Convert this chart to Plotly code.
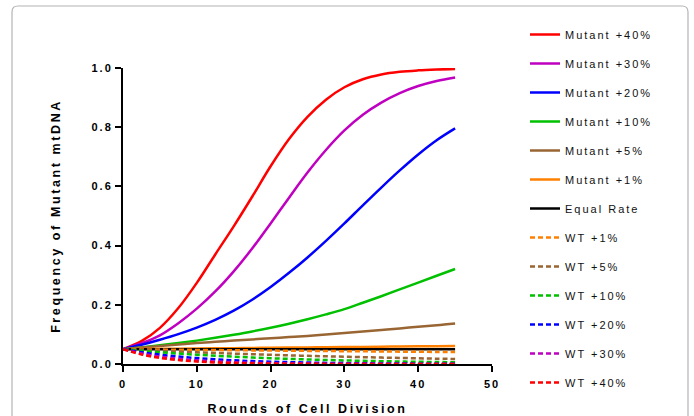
import plotly.graph_objects as go

# ---------------- data ----------------
rounds = [0, 2.5, 5, 7.5, 10, 12.5, 15, 17.5, 20, 22.5, 25, 27.5, 30, 32.5, 35, 37.5, 40, 42.5, 45]

mutant_40 = [0.05, 0.077, 0.122, 0.189, 0.274, 0.37, 0.465, 0.565, 0.668, 0.76, 0.835, 0.893, 0.935, 0.962, 0.978, 0.987, 0.992, 0.995, 0.997]
mutant_30 = [0.05, 0.07, 0.097, 0.138, 0.187, 0.245, 0.313, 0.39, 0.475, 0.562, 0.647, 0.723, 0.789, 0.842, 0.883, 0.915, 0.939, 0.956, 0.968]
mutant_20 = [0.05, 0.065, 0.082, 0.101, 0.123, 0.149, 0.18, 0.217, 0.26, 0.308, 0.36, 0.416, 0.475, 0.536, 0.596, 0.654, 0.708, 0.756, 0.796]
mutant_10 = [0.05, 0.056, 0.063, 0.0706, 0.079, 0.0883, 0.0987, 0.11, 0.1226, 0.1363, 0.1513, 0.1676, 0.1854, 0.207, 0.229, 0.252, 0.275, 0.298, 0.321]
mutant_5 = [0.05, 0.056, 0.061, 0.066, 0.071, 0.075, 0.079, 0.083, 0.087, 0.091, 0.095, 0.1, 0.105, 0.11, 0.115, 0.12, 0.126, 0.131, 0.137]
mutant_1 = [0.05, 0.0506, 0.0512, 0.0518, 0.0524, 0.053, 0.0536, 0.0542, 0.0548, 0.0554, 0.056, 0.0566, 0.0572, 0.0578, 0.0584, 0.059, 0.0596, 0.0602, 0.0608]
equal_rate = [0.05] * 19
wt_1 = [0.05, 0.0494, 0.0488, 0.0482, 0.0476, 0.047, 0.0465, 0.046, 0.0454, 0.0449, 0.0443, 0.0438, 0.0433, 0.0428, 0.0423, 0.0418, 0.0413, 0.0408, 0.0403]
wt_5 = [0.05, 0.0472, 0.0444, 0.0419, 0.0395, 0.0372, 0.035, 0.033, 0.031, 0.0292, 0.0276, 0.026, 0.0245, 0.023, 0.0217, 0.0204, 0.0192, 0.018, 0.017]
wt_10 = [0.05, 0.0445, 0.0396, 0.0352, 0.0313, 0.0278, 0.0247, 0.0219, 0.0194, 0.0173, 0.0153, 0.0135, 0.012, 0.0107, 0.0095, 0.0084, 0.0075, 0.0066, 0.0058]
wt_20 = [0.05, 0.0398, 0.0316, 0.0251, 0.0199, 0.0157, 0.0124, 0.0099, 0.0078, 0.0062, 0.0049, 0.0038, 0.003, 0.0024, 0.0019, 0.0015, 0.0012, 0.0009, 0.0007]
wt_30 = [0.05, 0.0354, 0.025, 0.0176, 0.0123, 0.0087, 0.0061, 0.0042, 0.003, 0.0021, 0.0014, 0.001, 0.0007, 0.0005, 0.0003, 0.0002, 0.00016, 0.0001, 0.00008]
wt_40 = [0.05, 0.0323, 0.0207, 0.0132, 0.0084, 0.0054, 0.0034, 0.0022, 0.0014, 0.0009, 0.0006, 0.0004, 0.0002, 0.00015, 0.0001, 0.00007, 0.00005, 0.00003, 0.00002]

series_names = ["Mutant +40%", "Mutant +30%", "Mutant +20%", "Mutant +10%", "Mutant +5%",
                "Mutant +1%", "Equal Rate", "WT +1%", "WT +5%", "WT +10%", "WT +20%",
                "WT +30%", "WT +40%"]
series_values = [mutant_40, mutant_30, mutant_20, mutant_10, mutant_5, mutant_1, equal_rate,
                 wt_1, wt_5, wt_10, wt_20, wt_30, wt_40]

x_ticks = [0, 10, 20, 30, 40, 50]
y_ticks = [0.0, 0.2, 0.4, 0.6, 0.8, 1.0]

# ---------------- styles ----------------
RED, MAG, BLUE, GREEN, BROWN, ORANGE, BLACK = "#FF0000", "#C000C0", "#0000FF", "#00C000", "#996633", "#FF8000", "#000000"
colors = [RED, MAG, BLUE, GREEN, BROWN, ORANGE, BLACK, ORANGE, BROWN, GREEN, BLUE, MAG, RED]
dashes = ["solid"] * 7 + ["5px,3px"] * 6

FONT = "Arial, Liberation Sans, sans-serif"

fig = go.Figure()
for i, (name, vals) in enumerate(zip(series_names, series_values)):
    fig.add_trace(go.Scatter(
        x=rounds, y=vals, name=name, mode="lines",
        line=dict(color=colors[i], width=2.5, dash=dashes[i], shape="spline"),
        legendgroup="g%d" % i,
    ))

# layout geometry
W, H = 694, 416
L, R, T, B = 123, 202, 68, 52
pw, ph = W - L - R, H - T - B

def px2paper(px, py):
    return (px - L) / pw, (H - B - py) / ph

# rounded grey frame
fx0, fy0 = px2paper(12, 6)
fx1, fy1 = px2paper(688, 440)
rx, ry = 6 / pw, 6 / ph
path = (f"M {fx0},{fy1} L {fx0},{fy0 - ry} Q {fx0},{fy0} {fx0 + rx},{fy0} "
        f"L {fx1 - rx},{fy0} Q {fx1},{fy0} {fx1},{fy0 - ry} L {fx1},{fy1}")

lx, ly = px2paper(525, 20)

fig.update_layout(
    width=W, height=H,
    margin=dict(l=L, r=R, t=T, b=B, autoexpand=False),
    paper_bgcolor="white", plot_bgcolor="white",
    font=dict(family=FONT, color="black", size=11),
    showlegend=True,
    legend=dict(x=lx, y=ly, xanchor="left", yanchor="top", traceorder="grouped",
                tracegroupgap=10, maxheight=405,
                font=dict(family=FONT, size=11, color="#111111"),
                bgcolor="rgba(0,0,0,0)"),
    shapes=[dict(type="path", xref="paper", yref="paper", path=path,
                 line=dict(color="#b4b4b4", width=1.2), layer="below")],
    xaxis=dict(range=[0, 50], tickvals=x_ticks, showgrid=False, zeroline=False,
               showline=True, linecolor="black", linewidth=2,
               ticks="outside", ticklen=6, tickwidth=2, tickcolor="black",
               ticklabelstandoff=3,
               tickfont=dict(family=FONT, size=11, weight="bold"),
               title=dict(text="<b>Rounds of Cell Division</b>", standoff=16,
                          font=dict(family=FONT, size=12.5))),
    yaxis=dict(range=[0, 1.0], tickvals=y_ticks, tickformat=".1f", showgrid=False,
               zeroline=False, showline=True, linecolor="black", linewidth=2,
               ticks="outside", ticklen=6, tickwidth=2, tickcolor="black",
               tickfont=dict(family=FONT, size=11, weight="bold"),
               title=dict(text="<b>Frequency of Mutant mtDNA</b>", standoff=34,
                          font=dict(family=FONT, size=12.5))),
)

post = """
document.body.style.margin='0';
var s=document.createElement('style');
s.innerHTML='.legendtext{letter-spacing:2px} .g-xtitle text,.g-ytitle text{letter-spacing:2.6px} .xtick text,.ytick text{letter-spacing:2px}';
document.head.appendChild(s);
var gd=document.getElementById('{plot_id}');
gd.querySelectorAll('.legend .scrollbox').forEach(function(e){e.removeAttribute('clip-path');});
"""

fig.write_html("out.html", post_script=post, config={"displayModeBar": False})
